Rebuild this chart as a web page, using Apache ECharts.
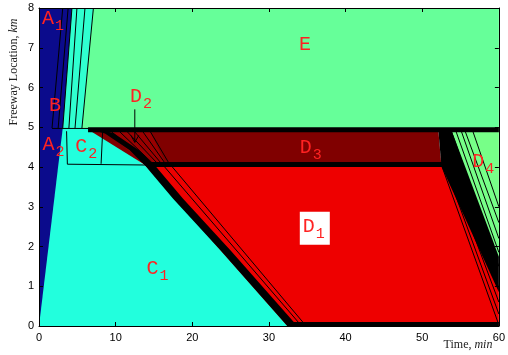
<!DOCTYPE html>
<html>
<head>
<meta charset="utf-8">
<script src="https://cdn.jsdelivr.net/npm/echarts@6/dist/echarts.min.js"></script>
<style>
  html, body { margin: 0; background: #fff; }
  #chart { width: 508px; height: 355px; }
</style>
</head>
<body>
<div id="chart"></div>
<script>
// axis ticks
const timeTicks = [0, 10, 20, 30, 40, 50, 60];
const kmTicks = [0, 1, 2, 3, 4, 5, 6, 7, 8];

// region outlines, [time (min), location (km)]
const regionE = [[0, 4.93], [60, 4.93], [60, 8], [0, 8]];
const regionC1 = [[0, 0], [33, 0], [14, 4], [8.6, 4.84], [6.4, 4.98], [0, 4.98]];
const regionCUp = [[3.1, 4.95], [5.6, 4.95], [7.1, 8], [4.3, 8]];
const regionA = [[0, 0], [3.1, 4.98], [4.3, 8], [0, 8]];
const regionD3 = [[6.5, 4.93], [52.1, 4.93], [52.5, 4.03], [14, 4.03]];
const regionD1 = [[14, 4.02], [53.5, 4.02], [60, 1.0], [60, 0], [32.4, 0]];
const regionD2 = [[8.2, 4.93], [14.4, 4.93], [16.6, 4.05], [14.2, 4.05]];
const regionD4 = [[52.2, 4.93], [60, 4.93], [60, 1.7]];
const fanBlack = [[52.1, 4.93], [53.8, 4.93], [60, 1.74], [60, 0.85], [52.5, 4.02]];
const shockBand = [[6.0, 4.98], [8.6, 4.84], [11.8, 4.43], [14.0, 4.0], [17.5, 3.2], [23.7, 1.9], [32.4, 0],
                   [33.7, 0], [25.0, 1.9], [18.8, 3.2], [15.3, 4.0], [13.0, 4.43], [9.8, 4.84], [7.5, 4.98]];

// thick boundaries
const edgeTop = [[6.4, 4.94], [60, 4.94]];
const edgeMid = [[14, 4.06], [52.6, 4.06]];
const edgeBottom = [[32.4, 0.05], [60, 0.05]];

// thin characteristic lines
const bLine1 = [[1.7, 4.98], [3.1, 8]];
const bLine2 = [[2.5, 4.98], [3.8, 8]];
const aEdge = [[3.1, 4.98], [4.3, 8]];
const cLine1 = [[3.9, 4.98], [4.95, 8]];
const cLine2 = [[4.7, 4.98], [6.0, 8]];
const eEdge = [[5.6, 4.98], [7.1, 8]];
const bBase = [[1.7, 4.97], [6.4, 4.97]];
const c2Left = [[3.6, 4.9], [3.7, 4.07]];
const c2Mid = [[8.3, 4.88], [8.1, 4.08]];
const c2Base = [[3.7, 4.07], [14.0, 4.05]];
const d2Line1 = [[9.2, 4.93], [14.4, 4.08]];
const d2Line2 = [[10.3, 4.93], [14.9, 4.08]];
const d2Line3 = [[11.3, 4.93], [15.5, 4.08]];
const d2Line4 = [[12.3, 4.93], [16.0, 4.08]];
const d2Line5 = [[13.4, 4.93], [16.5, 4.08]];
const d2Line6 = [[14.4, 4.93], [17.0, 4.08]];
const d1Line1 = [[16.4, 4.0], [33.9, 0.08]];
const d1Line2 = [[17.4, 4.0], [34.5, 0.08]];
const d1Edge1 = [[52.6, 4.0], [59.9, 0.08]];
const d1Edge2 = [[53.0, 4.0], [60, 0.3]];
const d1Edge3 = [[53.4, 4.0], [60, 0.6]];
const d4Line1 = [[53.8, 4.9], [60, 1.5]];
const d4Line2 = [[54.4, 4.9], [60, 1.85]];
const d4Line3 = [[55.1, 4.9], [60, 2.2]];
const d4Line4 = [[55.6, 4.9], [60, 2.6]];
const d4Line5 = [[56.6, 4.9], [60, 3.0]];
const d2Pointer = [[12.5, 5.45], [12.5, 4.62]];

// region labels
const labelNames = ['A', 'A', 'B', 'C', 'C', 'D', 'D', 'D', 'D', 'E'];
const labelSubs = ['1', '2', '', '1', '2', '1', '2', '3', '4', ''];
const labelTime = [1.17, 1.23, 2.08, 14.8, 5.52, 35.2, 12.66, 34.8, 57.3, 34.7];
const labelKm = [7.72, 4.55, 5.53, 1.43, 4.5, 2.5, 5.77, 4.48, 4.13, 7.07];

const fills = [
  { pts: regionE, color: '#66ff99' },
  { pts: regionC1, color: '#22ffdd' },
  { pts: regionCUp, color: '#30ffd0' },
  { pts: regionA, color: '#0b0b8c' },
  { pts: regionD3, color: '#800000' },
  { pts: regionD1, color: '#ee0000' },
  { pts: regionD2, color: '#9a0000' },
  { pts: regionD4, color: '#77ff88' },
  { pts: fanBlack, color: '#000' },
  { pts: shockBand, color: '#000' }
];

const strokes = [
  { pts: edgeTop, w: 5 }, { pts: edgeMid, w: 5 }, { pts: edgeBottom, w: 4 },
  { pts: bLine1, w: 1 }, { pts: bLine2, w: 1 }, { pts: aEdge, w: 1 },
  { pts: cLine1, w: 1 }, { pts: cLine2, w: 1 }, { pts: eEdge, w: 1 }, { pts: bBase, w: 1 },
  { pts: c2Left, w: 1 }, { pts: c2Mid, w: 1 }, { pts: c2Base, w: 1 },
  { pts: d2Line1, w: 1 }, { pts: d2Line2, w: 1 }, { pts: d2Line3, w: 1 },
  { pts: d2Line4, w: 1 }, { pts: d2Line5, w: 1 }, { pts: d2Line6, w: 1 },
  { pts: d1Line1, w: 1 }, { pts: d1Line2, w: 1 },
  { pts: d1Edge1, w: 1 }, { pts: d1Edge2, w: 1 }, { pts: d1Edge3, w: 1 },
  { pts: d4Line1, w: 1 }, { pts: d4Line2, w: 1 }, { pts: d4Line3, w: 1 },
  { pts: d4Line4, w: 1 }, { pts: d4Line5, w: 1 },
  { pts: d2Pointer, w: 1, arrow: true }
];

const LABEL_RED = '#ff2222';
const MONO = 'Liberation Mono, DejaVu Sans Mono, monospace';

function renderFill(params, api) {
  const f = fills[params.dataIndex];
  return {
    type: 'polygon',
    shape: { points: f.pts.map(p => api.coord(p)) },
    style: { fill: f.color, stroke: null },
    silent: true
  };
}

function renderStroke(params, api) {
  const s = strokes[params.dataIndex];
  const pts = s.pts.map(p => api.coord(p));
  const children = [{
    type: 'polyline',
    shape: { points: pts },
    style: { stroke: '#000', lineWidth: s.w, fill: null }
  }];
  if (s.arrow) {
    const e = pts[pts.length - 1];
    children.push({
      type: 'polyline',
      shape: { points: [[e[0] - 4, e[1] - 7], [e[0], e[1]], [e[0] + 4, e[1] - 7]] },
      style: { stroke: '#000', lineWidth: 1, fill: null }
    });
  }
  return { type: 'group', children: children, silent: true };
}

function renderLabel(params, api) {
  const i = params.dataIndex;
  const c = api.coord([labelTime[i], labelKm[i]]);
  const children = [];
  if (labelNames[i] + labelSubs[i] === 'D1') {
    children.push({
      type: 'rect',
      shape: { x: c[0] - 9, y: c[1] - 15, width: 30, height: 33 },
      style: { fill: '#fff' }
    });
  }
  children.push({
    type: 'text', x: c[0], y: c[1],
    style: {
      text: labelNames[i], fill: LABEL_RED, font: '20px ' + MONO,
      textAlign: 'center', textVerticalAlign: 'middle', align: 'center', verticalAlign: 'middle'
    }
  });
  if (labelSubs[i]) {
    children.push({
      type: 'text', x: c[0] + 11.5, y: c[1] + 7,
      style: {
        text: labelSubs[i], fill: LABEL_RED, font: '15px ' + MONO,
        textAlign: 'center', textVerticalAlign: 'middle', align: 'center', verticalAlign: 'middle'
      }
    });
  }
  return { type: 'group', children: children, silent: true };
}

const chart = echarts.init(document.getElementById('chart'), null, { renderer: 'canvas' });

const tickStyle = { inside: true, length: 4, lineStyle: { color: '#000', width: 1 } };
const lineStyle = { show: true, onZero: false, lineStyle: { color: '#000', width: 1 } };
const labelFont = { color: '#000', fontFamily: 'Liberation Sans, Arial, sans-serif', fontSize: 11 };

const option = {
  animation: false,
  backgroundColor: '#fff',
  grid: { left: 39, right: 7, top: 8, bottom: 29 },
  xAxis: [
    {
      type: 'value', min: timeTicks[0], max: timeTicks[timeTicks.length - 1],
      interval: timeTicks[1] - timeTicks[0], position: 'bottom', z: 10,
      axisLine: lineStyle, axisTick: tickStyle, splitLine: { show: false },
      axisLabel: Object.assign({ margin: 6 }, labelFont)
    },
    {
      type: 'value', min: timeTicks[0], max: timeTicks[timeTicks.length - 1],
      interval: timeTicks[1] - timeTicks[0], position: 'top', z: 10,
      axisLine: lineStyle, axisTick: tickStyle, splitLine: { show: false },
      axisLabel: { show: false }
    }
  ],
  yAxis: [
    {
      type: 'value', min: kmTicks[0], max: kmTicks[kmTicks.length - 1],
      interval: kmTicks[1] - kmTicks[0], position: 'left', z: 10,
      axisLine: lineStyle, axisTick: tickStyle, splitLine: { show: false },
      axisLabel: Object.assign({ margin: 5 }, labelFont)
    },
    {
      type: 'value', min: kmTicks[0], max: kmTicks[kmTicks.length - 1],
      interval: kmTicks[1] - kmTicks[0], position: 'right', z: 10,
      axisLine: lineStyle, axisTick: tickStyle, splitLine: { show: false },
      axisLabel: { show: false }
    }
  ],
  graphic: [
    {
      type: 'text', x: 14, y: 72, rotation: Math.PI / 2,
      style: {
        text: '{a|Freeway Location, }{b|km}',
        rich: {
          a: { fontFamily: 'Liberation Serif, serif', fontSize: 12, fill: '#222', color: '#222' },
          b: { fontFamily: 'Liberation Serif, serif', fontSize: 12, fontStyle: 'italic', fill: '#222', color: '#222' }
        },
        align: 'center', verticalAlign: 'middle'
      }
    },
    {
      type: 'text', x: 468, y: 345,
      style: {
        text: '{a|Time, }{b|min}',
        rich: {
          a: { fontFamily: 'Liberation Serif, serif', fontSize: 12, fill: '#222', color: '#222' },
          b: { fontFamily: 'Liberation Serif, serif', fontSize: 12, fontStyle: 'italic', fill: '#222', color: '#222' }
        },
        align: 'center', verticalAlign: 'middle'
      }
    }
  ],
  series: [
    {
      type: 'custom', name: 'regions', clip: true, z: 2,
      renderItem: renderFill,
      data: fills.map(() => [0, 0])
    },
    {
      type: 'custom', name: 'boundaries', clip: true, z: 3,
      renderItem: renderStroke,
      data: strokes.map(() => [0, 0])
    },
    {
      type: 'custom', name: 'labels', clip: false, z: 4,
      renderItem: renderLabel,
      data: labelNames.map(() => [0, 0])
    }
  ]
};

chart.setOption(option);
</script>
</body>
</html>
